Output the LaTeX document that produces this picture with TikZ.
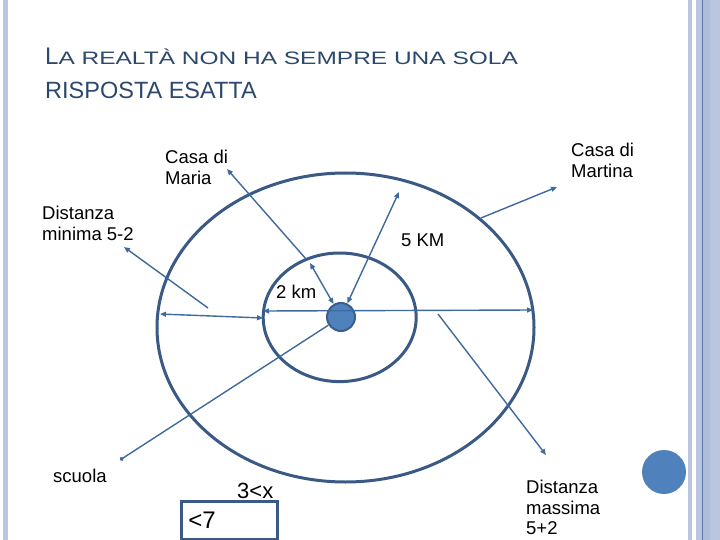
\documentclass[tikz,border=0pt]{standalone}
\usepackage{fontspec}
\setmainfont{Liberation Sans}
\usetikzlibrary{arrows.meta}
\definecolor{ringblue}{RGB}{58,90,133}
\definecolor{arrowblue}{RGB}{62,106,158}
\definecolor{dotblue}{RGB}{79,129,189}
\definecolor{dotrim}{RGB}{59,94,140}
\definecolor{titleblue}{RGB}{44,72,108}
\definecolor{bandblue}{RGB}{186,198,223}
\definecolor{banddark}{RGB}{174,189,218}
\definecolor{bandline}{RGB}{90,119,168}

\begin{document}
\begin{tikzpicture}[x=1pt,y=-1pt,
  ring/.style={draw=ringblue,line width=3pt},
  ptr/.style={draw=arrowblue,line width=1.4pt,-{Triangle[length=6pt,width=5pt]}},
  dptr/.style={draw=arrowblue,line width=1.4pt,{Triangle[length=6pt,width=5pt]}-{Triangle[length=6pt,width=5pt]}},
  lbl/.style={inner sep=0pt,align=left,font=\fontsize{18.5}{21}\selectfont},
  dot/.style={circle,fill=dotblue,inner sep=0pt}]
  \useasboundingbox (0,0) rectangle (720,540);
  \fill[white] (0,0) rectangle (720,540);
  % slide borders
  \fill[bandblue] (3,0) rectangle (8,540);
  \fill[bandblue] (688,0) rectangle (692,540);
  \fill[bandblue] (696,0) rectangle (720,540);
  \fill[banddark] (703,0) rectangle (710,540);
  \draw[bandline,line width=1pt] (702.5,0) -- (702.5,540);

  % title
  \node[anchor=base west,inner sep=0pt,text=titleblue] (title) at (45,65)
    {\fontsize{24}{24}\selectfont L\fontsize{18}{18}\selectfont\scalebox{1.36}[1]{A REALTÀ NON HA SEMPRE UNA SOLA}};
  \node[anchor=base west,inner sep=0pt,text=titleblue] (title2) at (45,99)
    {\fontsize{23.5}{24}\selectfont RISPOSTA ESATTA};

  % circles
  \draw[ring] (345.5,327.5) ellipse [x radius=188.5, y radius=154.5];
  \draw[ring] (339.7,317.3) ellipse [x radius=76.5, y radius=64.3];

  % labels
  \node[lbl,anchor=north west] (maria) at (165,150) {Casa di\\Maria};
  \node[lbl,anchor=north west] (martina) at (571,143) {Casa di\\Martina};
  \node[lbl,anchor=north west] (minima) at (42,206) {Distanza\\minima 5-2};
  \node[lbl,anchor=north west,font=\fontsize{18.5}{20.5}\selectfont] (massima) at (526,480) {Distanza\\massima\\5+2};
  \node[lbl,anchor=base west] (km5) at (401,246) {5 KM};
  \node[lbl,anchor=base west] (km2) at (276,298) {2 km};
  \node[lbl,anchor=base west] (scuola) at (53,482) {scuola};
  \node[inner sep=0pt,anchor=base west,font=\fontsize{22}{22}\selectfont] (range) at (237,498) {3<x};
  \node[draw=ringblue,line width=2.5pt,anchor=north west,minimum width=96pt,minimum height=38pt,
    text width=82pt,inner xsep=7pt,align=left,font=\fontsize{24}{24}\selectfont] (bound) at (180,500) {<7};

  % end points
  \coordinate (mariaend) at (227,169);
  \coordinate (mariastart) at (306,259);
  \coordinate (in2) at (310,263);
  \coordinate (out5) at (399,192);
  \coordinate (outleft) at (160,314);
  \coordinate (inleft) at (263,318);
  \coordinate (inleft2) at (263,311);
  \coordinate (outright) at (533,310);
  \coordinate (martinastart) at (481,218);
  \coordinate (martinaend) at (557,187);
  \coordinate (minstart) at (208,308);
  \coordinate (minend) at (124,247);
  \coordinate (maxstart) at (438,314);
  \coordinate (maxend) at (546,455);
  \coordinate (scuolaend) at (120,460);

  \node[dot,draw=dotrim,line width=2pt,minimum size=28pt] (home) at (341,317) {};
  \node[dot,minimum size=44pt] (ball) at (664,472) {};

  % connectors
  \draw[ptr] (mariastart) -- (mariaend);
  \draw[dptr] (home) -- (in2);
  \draw[dptr] (home) -- (out5);
  \draw[dptr] (outleft) -- (inleft);
  \draw[dptr] (inleft2) -- (outright);
  \draw[ptr] (martinastart) -- (martinaend);
  \draw[ptr] (minstart) -- (minend);
  \draw[ptr] (maxstart) -- (maxend);
  \draw[draw=arrowblue,line width=1.4pt,-{Circle[length=4pt]}] (home) -- (scuolaend);
\end{tikzpicture}
\end{document}
